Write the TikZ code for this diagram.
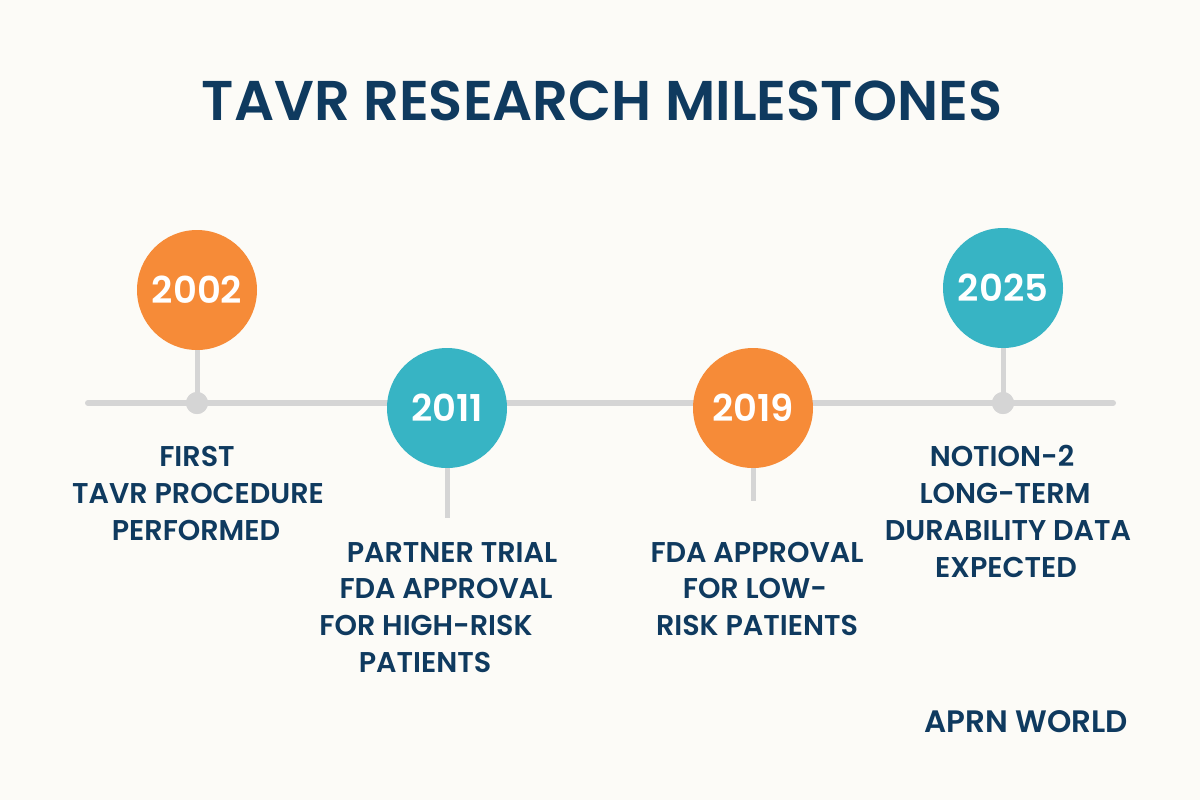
\documentclass[tikz,border=0pt]{standalone}
\usepackage{fontspec}
\setmainfont{Poppins}[BoldFont={Poppins SemiBold}]
\newfontfamily\yrfont{Poppins SemiBold}
\definecolor{bg}{HTML}{FCFBF7}
\definecolor{navy}{HTML}{0F3A5F}
\definecolor{orng}{HTML}{F68B38}
\definecolor{teal}{HTML}{37B4C4}
\definecolor{linegray}{HTML}{D5D5D5}
\begin{document}
\begin{tikzpicture}[x=0.5pt,y=-0.5pt,
  lbl/.style={text=navy,font=\bfseries\fontsize{14.3}{16}\selectfont,inner sep=0pt,anchor=base},
  titlestyle/.style={text=navy,font=\bfseries\fontsize{28}{32}\selectfont,inner sep=0pt,anchor=base},
  yr/.style={circle,minimum size=60pt,inner sep=0pt,text=white,font=\yrfont\fontsize{18.5}{20}\selectfont},
  track/.style={draw=linegray,line width=3pt,line cap=round},
  stem/.style={draw=linegray,line width=2.5pt},
  dot/.style={circle,fill=linegray,minimum size=11pt,inner sep=0pt}]
\fill[bg] (0,0) rectangle (1200,800);
\useasboundingbox (0,0) rectangle (1200,800);
\node[titlestyle] (title) at (602,120) {TAVR RESEARCH MILESTONES};
\coordinate (L) at (88,403);
\coordinate (R) at (1113,403);
\draw[track] (L) -- (R);
\node[dot] (d1) at (197,403) {};
\node[dot] (d4) at (1003,403) {};
\coordinate (s2) at (447,518);
\coordinate (s3) at (753,501);
\node[yr,fill=orng] (c1) at (197,290) {2002};
\node[yr,fill=teal] (c2) at (447,408) {2011};
\node[yr,fill=orng] (c3) at (753,408) {2019};
\node[yr,fill=teal] (c4) at (1003,288) {2025};
\draw[stem] (c1.south) -- (d1.center);
\draw[stem] (c4.south) -- (d4.center);
\draw[stem] (c2.south) -- (s2);
\draw[stem] (c3.south) -- (s3);
\node[dot] at (d1) {};
\node[dot] at (d4) {};
% 2002
\node[lbl] (a1) at (197,466) {FIRST};
\node[lbl] (a2) at (198,503) {TAVR PROCEDURE};
\node[lbl] (a3) at (196,540) {PERFORMED};
% 2011
\node[lbl] (b1) at (452,562) {PARTNER TRIAL};
\node[lbl] (b2) at (446,598) {FDA APPROVAL};
\node[lbl] (b3) at (426,635) {FOR HIGH-RISK};
\node[lbl] (b4) at (425,672) {PATIENTS};
% 2019
\node[lbl] (e1) at (757,562) {FDA APPROVAL};
\node[lbl] (e2) at (755,598) {FOR LOW-};
\node[lbl] (e3) at (757,635) {RISK PATIENTS};
% 2025
\node[lbl] (f1) at (1002,466) {NOTION-2};
\node[lbl] (f2) at (1005,503) {LONG-TERM};
\node[lbl] (f3) at (1008,540) {DURABILITY DATA};
\node[lbl] (f4) at (1006,577) {EXPECTED};
\node[lbl,font=\bfseries\fontsize{15.5}{17}\selectfont] (brand) at (1026,732) {APRN WORLD};
\end{tikzpicture}
\end{document}
